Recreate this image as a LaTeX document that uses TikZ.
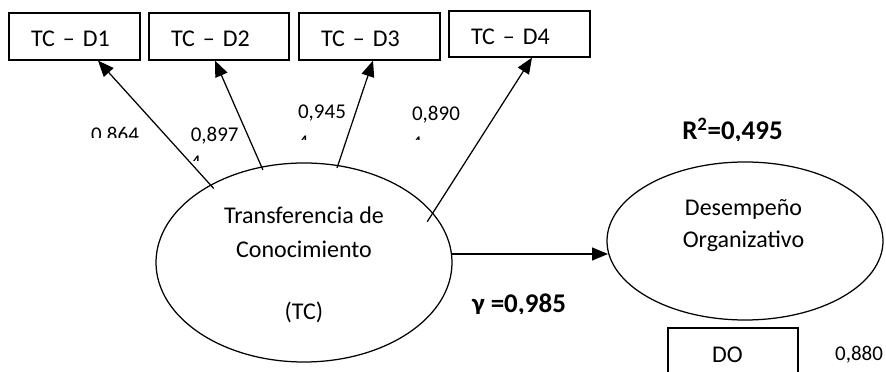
\documentclass[tikz,border=0pt]{standalone}
\usepackage{fontspec}
\setmainfont{Carlito}
\usetikzlibrary{shapes.geometric,arrows.meta,calc}
\begin{document}
\begin{tikzpicture}[x=1pt,y=1pt,
  ln/.style={line width=1.25pt},
  ind/.style={draw, ln, rectangle, inner xsep=22pt, inner ysep=0pt, align=left,
    minimum height=47pt, text height=20.5pt, text depth=0pt, font=\fontsize{24}{28}\selectfont},
  lat/.style={draw, ln, ellipse, inner sep=0pt},
  arr/.style={ln, -{Triangle[length=16pt,width=13pt]}},
  lab/.style={font=\fontsize{21}{25}\selectfont, anchor=base, inner sep=0pt},
  blab/.style={font=\fontsize{27}{31}\selectfont\bfseries, anchor=base, inner sep=0pt},
]
\useasboundingbox (0,0) rectangle (886,372);

% indicator boxes
\node[ind, text width=87pt] (d1) at (74.5,335.5) {TC – D1};
\node[ind, text width=96pt] (d2) at (219,335.5) {TC – D2};
\node[ind, text width=97pt] (d3) at (369.5,335.5) {TC – D3};
\node[ind, text width=97pt, minimum height=46pt] (d4) at (519.5,338) {TC – D4};

% latent variables
\node[lat, minimum width=296pt, minimum height=199pt,
  label={[name=tcl, align=center, yshift=-2pt, font=\fontsize{24}{34}\selectfont]center:{Transferencia de\\Conocimiento\\[28pt](TC)}}] (tc) at (304,109.5) {};
\node[lat, minimum width=276pt, minimum height=158pt,
  label={[name=dol, align=center, yshift=15pt, xshift=-1.5pt, font=\fontsize{24}{32}\selectfont]center:{Desempeño\\Organizativo}}] (do) at (745,131) {};

% DO indicator
\node[draw, ln, rectangle, inner xsep=44pt, inner ysep=0pt, text width=42pt, align=left,
  minimum height=53pt, text height=15.5pt, text depth=0pt, font=\fontsize{24}{28}\selectfont] (dob) at (733,17.5) {DO};

% connectors (tails start on the TC ellipse border, slightly inside)
\draw[arr, shorten <=-4pt] ($(tc.center)+(-93,77)$) -- ($(d1.south)+(23.5,0)$);
\draw[arr, shorten <=-3pt] ($(tc.center)+(-42.3,95.4)$) -- ($(d2.south)+(-4,0)$);
\draw[arr, shorten <=-2.5pt] ($(tc.center)+(33.8,96.9)$) -- ($(d3.south)+(3.5,0)$);
\draw[arr, shorten <=-10pt] ($(tc.center)+(128.6,49.2)$) -- ($(d4.south)+(12.5,0)$);
\draw[arr, shorten >=1pt] ($(tc.center)+(147.5,8.5)$) -- ($(do.center)+(-136,-13)$);

% loadings
\begin{scope}
  \clip (80,234) rectangle (150,260);
  \node[lab] (n1) at (115,230.7) {0,864};
\end{scope}
\node[lab] (n2) at (214.7,230.3) {0,897};
\node[lab] (n3) at (322,253) {0,945};
\node[lab] (n4) at (436,251.3) {0,890};
\node[lab] (n5) at (859,11) {0,880};

% clipped remnants of hidden second lines
\begin{scope}
  \clip (185,211.3) rectangle (210,222);
  \node[lab] (m1) at (195.7,202) {4};
\end{scope}
\begin{scope}
  \clip (290,232.3) rectangle (320,240);
  \node[lab] (m2) at (303.3,222.7) {4};
\end{scope}
\begin{scope}
  \clip (405,232.3) rectangle (430,240);
  \node[lab] (m3) at (416.7,221.4) {4};
\end{scope}

% bold statistics
\begin{scope}
  \clip (650,231.5) rectangle (820,270);
  \node[blab] (r2) at (732.5,232) {R\textsuperscript{2}=0,495};
\end{scope}
\begin{scope}
  \clip (450,58.5) rectangle (600,95);
  \node[blab] (gam) at (519,59) {γ =0,985};
\end{scope}
\end{tikzpicture}
\end{document}
